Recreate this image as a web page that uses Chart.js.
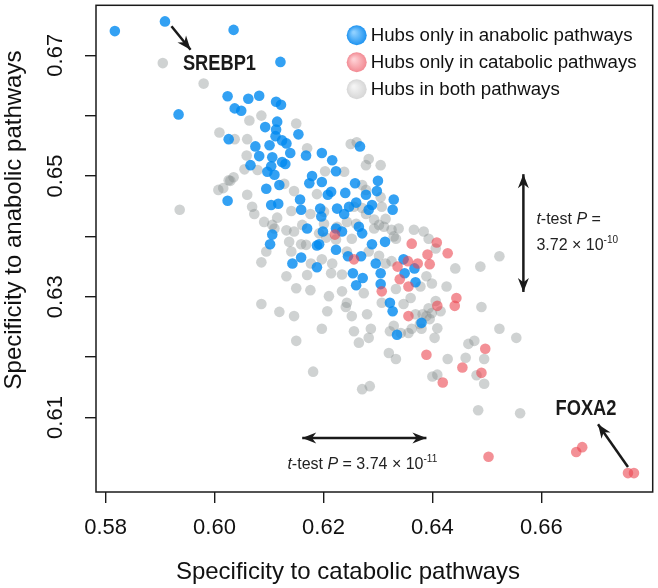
<!DOCTYPE html>
<html>
<head>
<meta charset="utf-8">
<script src="https://cdn.jsdelivr.net/npm/chart.js@4.4.1/dist/chart.umd.min.js"></script>
<style>
  html, body { margin: 0; padding: 0; background: #fff; }
  #wrap { width: 658px; height: 588px; }
</style>
</head>
<body>
<div id="wrap"><canvas id="hubChart" width="658" height="588"></canvas></div>
<script>
// axis ticks
const xTicks = [0.58, 0.60, 0.62, 0.64, 0.66];
const yTicks = [0.61, 0.62, 0.63, 0.64, 0.65, 0.66, 0.67];
const yTickLabels = ['0.61', '', '0.63', '', '0.65', '', '0.67'];

const seriesNames = ['Hubs only in anabolic pathways', 'Hubs only in catabolic pathways', 'Hubs in both pathways'];

// [catabolic specificity, anabolic specificity]
const anabolicHubs = [
  [0.5817,0.6740],[0.5909,0.6756],[0.6035,0.6742],[0.6121,0.6689],[0.5934,0.6602],[0.6024,0.6632],[0.6062,0.6628],[0.6082,0.6633],
  [0.6113,0.6623],[0.6122,0.6618],[0.6037,0.6612],[0.6049,0.6608],[0.6115,0.6590],[0.6093,0.6581],[0.6113,0.6577],[0.6154,0.6569],
  [0.6026,0.6561],[0.6112,0.6566],[0.6124,0.6559],[0.6132,0.6554],[0.6075,0.6549],[0.6101,0.6551],[0.6139,0.6538],[0.6168,0.6534],
  [0.6197,0.6538],[0.6216,0.6526],[0.6082,0.6533],[0.6106,0.6531],[0.6124,0.6523],[0.6066,0.6518],[0.6104,0.6516],[0.6130,0.6520],
  [0.6097,0.6507],[0.6110,0.6502],[0.6179,0.6500],[0.6174,0.6488],[0.6197,0.6490],[0.6119,0.6485],[0.6095,0.6479],[0.6214,0.6474],
  [0.6208,0.6469],[0.6024,0.6459],[0.6157,0.6461],[0.6104,0.6452],[0.6117,0.6454],[0.6159,0.6444],[0.6194,0.6446],[0.6196,0.6433],
  [0.6170,0.6413],[0.6199,0.6408],[0.6223,0.6413],[0.6106,0.6403],[0.6102,0.6387],[0.6267,0.6549],[0.6223,0.6508],[0.6258,0.6488],
  [0.6300,0.6492],[0.6298,0.6475],[0.6240,0.6472],[0.6329,0.6461],[0.6327,0.6444],[0.6289,0.6452],[0.6283,0.6444],[0.6247,0.6449],
  [0.6225,0.6446],[0.6238,0.6437],[0.6265,0.6416],[0.6271,0.6405],[0.6234,0.6408],[0.6223,0.6378],[0.6245,0.6367],[0.6269,0.6367],
  [0.6289,0.6387],[0.6313,0.6391],[0.6254,0.6339],[0.6272,0.6331],[0.6260,0.6319],[0.6296,0.6355],[0.6305,0.6339],[0.6305,0.6321],
  [0.6347,0.6362],[0.6349,0.6339],[0.6367,0.6347],[0.6369,0.6324],[0.6322,0.6290],[0.6327,0.6276],[0.6380,0.6257],[0.6335,0.6237],
  [0.6159,0.6365],[0.6143,0.6355],[0.6188,0.6349],[0.6192,0.6387],[0.6278,0.6469],[0.6260,0.6456],[0.6188,0.6385]
];

const catabolicHubs = [
  [0.6221,0.6403],[0.6256,0.6362],[0.6362,0.6388],[0.6408,0.6390],[0.6391,0.6370],[0.6428,0.6372],[0.6373,0.6355],[0.6395,0.6354],
  [0.6355,0.6359],[0.6336,0.6350],[0.6356,0.6317],[0.6340,0.6329],[0.6307,0.6309],[0.6444,0.6298],[0.6441,0.6285],[0.6409,0.6285],
  [0.6356,0.6268],[0.6389,0.6204],[0.6455,0.6183],[0.6497,0.6214],[0.6490,0.6174],[0.6419,0.6158],[0.6503,0.6035],[0.6664,0.6043],
  [0.6675,0.6051],[0.6759,0.6008],[0.6770,0.6008]
];

const bothHubs = [
  [0.5905,0.6687],[0.5980,0.6653],[0.6086,0.6600],[0.6064,0.6592],[0.6150,0.6587],[0.6009,0.6572],[0.6037,0.6561],[0.6060,0.6561],
  [0.6170,0.6546],[0.6059,0.6534],[0.6079,0.6510],[0.6203,0.6508],[0.6035,0.6498],[0.6026,0.6493],[0.6007,0.6477],[0.6016,0.6480],
  [0.6060,0.6469],[0.6128,0.6487],[0.6146,0.6475],[0.6188,0.6470],[0.5936,0.6444],[0.6069,0.6449],[0.6073,0.6437],[0.6115,0.6431],
  [0.6141,0.6442],[0.6176,0.6437],[0.6201,0.6441],[0.6110,0.6413],[0.6132,0.6410],[0.6146,0.6408],[0.6161,0.6419],[0.6201,0.6421],
  [0.6192,0.6405],[0.6225,0.6416],[0.6055,0.6511],[0.6029,0.6492],[0.6091,0.6424],[0.6106,0.6419],[0.6137,0.6391],[0.6168,0.6386],
  [0.6141,0.6375],[0.6086,0.6357],[0.6095,0.6375],[0.6197,0.6362],[0.6132,0.6334],[0.6150,0.6314],[0.6170,0.6336],[0.6214,0.6339],
  [0.6234,0.6337],[0.6210,0.6301],[0.6234,0.6309],[0.6086,0.6288],[0.6119,0.6275],[0.6146,0.6268],[0.6197,0.6247],[0.6207,0.6276],
  [0.6243,0.6290],[0.6252,0.6268],[0.6280,0.6271],[0.6150,0.6227],[0.6265,0.6224],[0.6283,0.6232],[0.6287,0.6247],[0.6307,0.6290],
  [0.6333,0.6313],[0.6360,0.6298],[0.6389,0.6268],[0.6406,0.6293],[0.6415,0.6276],[0.6426,0.6317],[0.6442,0.6347],[0.6389,0.6334],
  [0.6399,0.6322],[0.6378,0.6317],[0.6347,0.6288],[0.6369,0.6271],[0.6382,0.6271],[0.6356,0.6240],[0.6380,0.6247],[0.6466,0.6222],
  [0.6477,0.6227],[0.6278,0.6518],[0.6305,0.6518],[0.6283,0.6528],[0.6325,0.6411],[0.6302,0.6419],[0.6333,0.6396],[0.6329,0.6400],
  [0.6314,0.6429],[0.6338,0.6413],[0.6366,0.6411],[0.6384,0.6408],[0.6393,0.6396],[0.6406,0.6380],[0.6278,0.6437],[0.6293,0.6428],
  [0.6260,0.6421],[0.6252,0.6396],[0.6223,0.6395],[0.6205,0.6398],[0.6243,0.6375],[0.6283,0.6375],[0.6302,0.6368],[0.6314,0.6355],
  [0.6325,0.6359],[0.6216,0.6355],[0.6177,0.6355],[0.6250,0.6553],[0.6261,0.6556],[0.6238,0.6507],[0.6271,0.6485],[0.6278,0.6477],
  [0.6305,0.6465],[0.6256,0.6449],[0.6271,0.6447],[0.6307,0.6449],[0.6311,0.6416],[0.6293,0.6413],[0.6243,0.6424],[0.6523,0.6367],
  [0.6488,0.6350],[0.6490,0.6283],[0.6523,0.6247],[0.6554,0.6232],[0.6495,0.6197],[0.6461,0.6199],[0.6428,0.6197],[0.6481,0.6170],
  [0.6495,0.6156],[0.6400,0.6168],[0.6409,0.6171],[0.6333,0.6197],[0.6320,0.6207],[0.6285,0.6152],[0.6271,0.6147],[0.6409,0.6248],
  [0.6404,0.6232],[0.6362,0.6247],[0.6377,0.6255],[0.6395,0.6263],[0.6399,0.6273],[0.6329,0.6252],[0.6342,0.6240],[0.6322,0.6243],
  [0.6256,0.6243],[0.6241,0.6283],[0.6274,0.6306],[0.6393,0.6281],[0.6484,0.6112],[0.6561,0.6107],[0.6159,0.6387],[0.6176,0.6311],
  [0.6181,0.6176]
];

const FONT = '"Liberation Sans", Arial, Helvetica, sans-serif';
const INK = '#1a1a1a';

// labels / arrows placed in data units
const geneLabels = [
  { text: 'SREBP1', x: 0.6009, y: 0.6686, from: [0.5921, 0.6748], to: [0.5956, 0.6709] },
  { text: 'FOXA2', x: 0.6682, y: 0.6115, from: [0.6759, 0.6018], to: [0.6704, 0.6089] }
];
const testArrows = [
  { from: [0.6161, 0.6066], to: [0.6389, 0.6066] },
  { from: [0.6567, 0.6503], to: [0.6567, 0.6308] }
];

function toPoints(pairs) {
  return pairs.map(p => ({ x: p[0], y: p[1] }));
}

function drawHead(ctx, x1, y1, x2, y2, len, wid) {
  const a = Math.atan2(y2 - y1, x2 - x1);
  const c = Math.cos(a), s = Math.sin(a);
  ctx.beginPath();
  ctx.moveTo(x2, y2);
  ctx.lineTo(x2 - len * c + wid / 2 * s, y2 - len * s - wid / 2 * c);
  ctx.lineTo(x2 - len * 0.7 * c, y2 - len * 0.7 * s);
  ctx.lineTo(x2 - len * c - wid / 2 * s, y2 - len * s + wid / 2 * c);
  ctx.closePath();
  ctx.fill();
}

function drawArrow(ctx, x1, y1, x2, y2, both) {
  ctx.beginPath();
  ctx.moveTo(x1, y1);
  ctx.lineTo(x2, y2);
  ctx.stroke();
  drawHead(ctx, x1, y1, x2, y2, 14, 11);
  if (both) drawHead(ctx, x2, y2, x1, y1, 14, 11);
}

// text pieces: [text, italic?, superscript?]
function drawRich(ctx, pieces, x, y, align, size) {
  const fontFor = p => (p[1] ? 'italic ' : '') + (p[2] ? Math.round(size * 0.62) : size) + 'px ' + FONT;
  let total = 0;
  pieces.forEach(p => { ctx.font = fontFor(p); total += ctx.measureText(p[0]).width; });
  let cx = align === 'center' ? x - total / 2 : x;
  ctx.textAlign = 'left';
  ctx.textBaseline = 'alphabetic';
  pieces.forEach(p => {
    ctx.font = fontFor(p);
    ctx.fillText(p[0], cx, p[2] ? y - size * 0.42 : y);
    cx += ctx.measureText(p[0]).width;
  });
}

const decorations = {
  id: 'decorations',
  afterDraw(chart) {
    const { ctx, chartArea: a, scales: { x, y } } = chart;
    ctx.save();

    // box round the plot
    ctx.strokeStyle = INK;
    ctx.lineWidth = 1.5;
    ctx.strokeRect(a.left, a.top, a.right - a.left, a.bottom - a.top);

    // axis titles
    ctx.fillStyle = '#111';
    ctx.font = '24px ' + FONT;
    ctx.textAlign = 'center';
    ctx.textBaseline = 'middle';
    ctx.fillText('Specificity to catabolic pathways', 348, 572);
    ctx.save();
    ctx.translate(14, 220);
    ctx.rotate(-Math.PI / 2);
    ctx.fillText('Specificity to anabolic pathways', 0, 0);
    ctx.restore();

    // legend
    const legendFill = [['#8fd0ff', '#1e93f0'], ['#ffd0d4', '#f28a93'], ['#f4f4f4', '#d6d6d6']];
    seriesNames.forEach((name, i) => {
      const cx = a.right - 296, cy = a.top + 30 + i * 27;
      const g = ctx.createRadialGradient(cx - 3, cy - 3, 1, cx, cy, 10);
      g.addColorStop(0, legendFill[i][0]);
      g.addColorStop(1, legendFill[i][1]);
      ctx.fillStyle = g;
      ctx.beginPath();
      ctx.arc(cx, cy, 10, 0, Math.PI * 2);
      ctx.fill();
      ctx.fillStyle = '#111';
      ctx.font = '18.7px ' + FONT;
      ctx.textAlign = 'left';
      ctx.textBaseline = 'middle';
      ctx.fillText(name, cx + 14, cy + 1);
    });

    // gene labels with arrows (condensed bold)
    ctx.strokeStyle = INK;
    ctx.fillStyle = INK;
    ctx.lineWidth = 2.5;
    geneLabels.forEach(g => {
      drawArrow(ctx, x.getPixelForValue(g.from[0]), y.getPixelForValue(g.from[1]),
        x.getPixelForValue(g.to[0]), y.getPixelForValue(g.to[1]), false);
      ctx.save();
      ctx.translate(x.getPixelForValue(g.x), y.getPixelForValue(g.y));
      ctx.scale(0.83, 1);
      ctx.font = 'bold 22px ' + FONT;
      ctx.textAlign = 'center';
      ctx.textBaseline = 'middle';
      ctx.fillText(g.text, 0, 0);
      ctx.restore();
    });

    // t-test arrows
    testArrows.forEach(t => {
      drawArrow(ctx, x.getPixelForValue(t.from[0]), y.getPixelForValue(t.from[1]),
        x.getPixelForValue(t.to[0]), y.getPixelForValue(t.to[1]), true);
    });

    ctx.fillStyle = '#222';
    const hx = (x.getPixelForValue(testArrows[0].from[0]) + x.getPixelForValue(testArrows[0].to[0])) / 2;
    drawRich(ctx, [['t', true], ['-test ', false], ['P', true], [' = 3.74 \u00d7 10', false], ['-11', false, true]],
      hx - 2, y.getPixelForValue(testArrows[0].from[1]) + 31, 'center', 16);
    const vx = x.getPixelForValue(testArrows[1].from[0]) + 13;
    const vy = (y.getPixelForValue(testArrows[1].from[1]) + y.getPixelForValue(testArrows[1].to[1])) / 2;
    drawRich(ctx, [['t', true], ['-test ', false], ['P', true], [' =', false]], vx, vy - 9, 'left', 16);
    drawRich(ctx, [['3.72 \u00d7 10', false], ['-10', false, true]], vx, vy + 17, 'left', 16);

    ctx.restore();
  }
};

const ctx = document.getElementById('hubChart');
new Chart(ctx, {
  type: 'scatter',
  data: {
    datasets: [
      {
        label: seriesNames[0],
        data: toPoints(anabolicHubs),
        backgroundColor: 'rgba(0, 138, 240, 0.8)',
        order: 2
      },
      {
        label: seriesNames[1],
        data: toPoints(catabolicHubs),
        backgroundColor: 'rgba(235, 70, 80, 0.6)',
        order: 1
      },
      {
        label: seriesNames[2],
        data: toPoints(bothHubs),
        backgroundColor: 'rgba(130, 136, 136, 0.38)',
        order: 3
      }
    ]
  },
  options: {
    responsive: false,
    animation: false,
    layout: { padding: { top: 2, right: 3, left: 0, bottom: 0 } },
    elements: { point: { radius: 5.3, borderWidth: 0, hoverRadius: 5.3 } },
    plugins: { legend: { display: false }, tooltip: { enabled: false } },
    scales: {
      x: {
        type: 'linear',
        min: 0.57824,
        max: 0.68044,
        afterFit: s => { s.height = 96; s.paddingLeft = 0; s.paddingRight = 0; },
        afterBuildTicks: s => { s.ticks = xTicks.map(v => ({ value: v })); },
        border: { display: false },
        grid: { drawOnChartArea: false, drawTicks: true, tickLength: 11, color: INK, lineWidth: 1.4 },
        ticks: {
          autoSkip: false,
          maxRotation: 0,
          padding: 12,
          color: '#111',
          font: { family: FONT, size: 22 },
          callback: v => v.toFixed(2)
        }
      },
      y: {
        type: 'linear',
        min: 0.59767,
        max: 0.67827,
        afterFit: s => { s.width = 96; s.paddingTop = 0; s.paddingBottom = 0; },
        afterBuildTicks: s => { s.ticks = yTicks.map(v => ({ value: v })); },
        border: { display: false },
        grid: { drawOnChartArea: false, drawTicks: true, tickLength: 11, color: INK, lineWidth: 1.4 },
        ticks: {
          autoSkip: false,
          minRotation: 90,
          maxRotation: 90,
          crossAlign: 'center',
          padding: 8,
          color: '#111',
          font: { family: FONT, size: 22 },
          callback: (v, i) => yTickLabels[i]
        }
      }
    }
  },
  plugins: [decorations]
});
</script>
</body>
</html>
